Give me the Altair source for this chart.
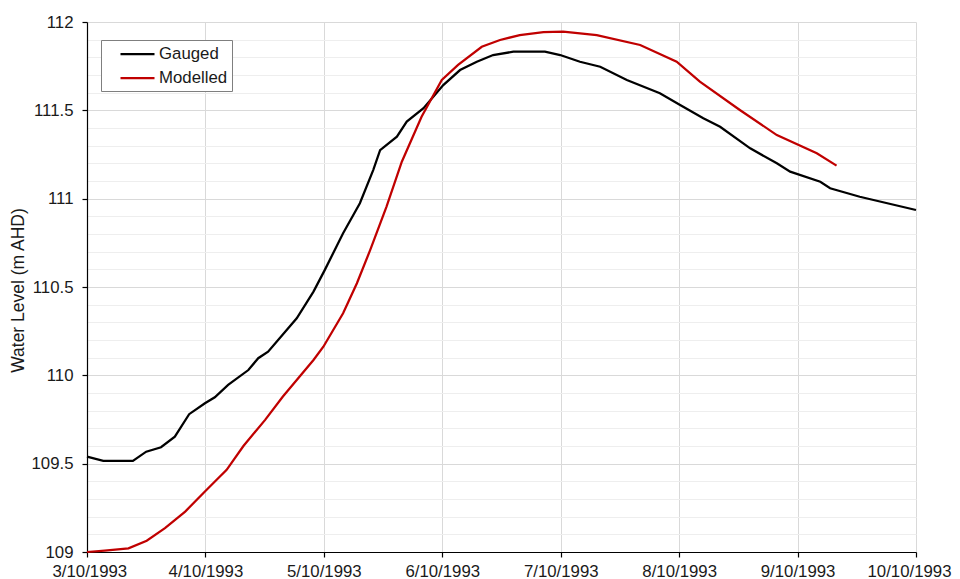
import altair as alt
import pandas as pd

# Hours since 3/10/1993 00:00 and water levels (m AHD)
gauged_hours = [0, 3.3, 9.3, 12.0, 15.0, 17.8, 20.7, 23.9, 25.9, 28.6, 32.7, 34.7, 36.7,
                42.5, 45.9, 48.2, 51.9, 55.3, 58.0, 59.4, 62.8, 64.8, 68.2, 72.2, 75.6,
                79.0, 82.3, 86.4, 92.8, 95.9, 99.9, 104.0, 109.4, 116.1, 120.2, 124.9,
                128.3, 134.4, 139.8, 142.5, 148.6, 150.6, 156.6, 168.0]
gauged_level = [109.54, 109.516, 109.516, 109.568, 109.593, 109.653, 109.78, 109.842,
                109.876, 109.946, 110.03, 110.097, 110.134, 110.323, 110.474, 110.597,
                110.804, 110.974, 111.162, 111.275, 111.351, 111.436, 111.512, 111.643,
                111.728, 111.775, 111.813, 111.832, 111.832, 111.813, 111.775, 111.747,
                111.672, 111.597, 111.53, 111.455, 111.407, 111.285, 111.2, 111.153,
                111.096, 111.059, 111.011, 110.936]

modelled_hours = [0, 3.6, 8.4, 12.1, 15.8, 19.9, 23.9, 28.3, 31.7, 36.1, 39.7, 45.9, 47.9,
                  51.9, 54.7, 57.4, 60.7, 63.8, 67.8, 71.9, 75.2, 80.0, 83.7, 87.7, 92.5,
                  96.5, 103.3, 112.1, 119.5, 124.2, 132.3, 139.8, 147.9, 151.9]
modelled_level = [109.0, 109.008, 109.021, 109.064, 109.135, 109.229, 109.342, 109.465,
                  109.6, 109.748, 109.88, 110.087, 110.162, 110.351, 110.521, 110.71,
                  110.955, 111.209, 111.464, 111.672, 111.757, 111.86, 111.898, 111.926,
                  111.942, 111.945, 111.926, 111.87, 111.775, 111.662, 111.502, 111.36,
                  111.257, 111.187]

series_names = ["Gauged", "Modelled"]
series_colors = ["#000000", "#c00000"]
y_major = [109, 109.5, 110, 110.5, 111, 111.5, 112]
y_minor = [round(109 + 0.1 * i, 1) for i in range(31)]
x_days = [3, 4, 5, 6, 7, 8, 9, 10]

start = pd.Timestamp("1993-10-03")


def to_iso(hours):
    return [(start + pd.Timedelta(hours=h)).strftime("%Y-%m-%dT%H:%M:%SZ") for h in hours]


df = pd.concat([
    pd.DataFrame({"time": to_iso(gauged_hours), "level": gauged_level, "series": "Gauged"}),
    pd.DataFrame({"time": to_iso(modelled_hours), "level": modelled_level, "series": "Modelled"}),
], ignore_index=True)

x_vals = [alt.DateTime(year=1993, month=10, date=d, utc=True) for d in x_days]

x_enc = alt.X(
    "time:T",
    scale=alt.Scale(type="utc", domain=[x_vals[0], x_vals[-1]], nice=False),
    axis=alt.Axis(values=x_vals, format="%-d/%-m/%Y", title=None, grid=True,
                  gridColor="#d9d9d9", gridWidth=1, domainColor="#000000", domainWidth=1.2,
                  tickColor="#000000", tickSize=5, tickWidth=1.2, labelFontSize=16.8,
                  labelColor="#1a1a1a", labelPadding=6, labelFlush=True,
                  labelFlushOffset=35),
)

y_scale = alt.Scale(domain=[109, 112], nice=False, zero=False)

minor = alt.Chart(df).mark_line(opacity=0).encode(
    x=x_enc,
    y=alt.Y("level:Q", scale=y_scale,
            axis=alt.Axis(orient="right", values=y_minor, grid=True, gridColor="#eeeeee",
                          gridWidth=1, labels=False, ticks=False, domain=False, title=None)),
    detail="series:N",
)

lines = alt.Chart(df).mark_line(strokeWidth=2.25).encode(
    x=x_enc,
    y=alt.Y("level:Q", scale=y_scale,
            axis=alt.Axis(orient="left", values=y_major, format="~g", grid=True,
                          gridColor="#d9d9d9", gridWidth=1, domainColor="#000000",
                          domainWidth=1.2, tickColor="#000000", tickSize=5, tickWidth=1.2,
                          labelFontSize=16.8, labelColor="#1a1a1a", labelPadding=9,
                          title="Water Level (m AHD)", titleFontSize=17.5,
                          titleFontWeight="normal", titleColor="#1a1a1a", titleAngle=270,
                          titleX=-68.5, titleY=268, titleAlign="center",
                          titleBaseline="middle")),
    color=alt.Color("series:N",
                    scale=alt.Scale(domain=series_names, range=series_colors),
                    legend=alt.Legend(orient="none", legendX=14, legendY=18, title=None,
                                      symbolType="M-2,0H2", symbolSize=289,
                                      symbolStrokeWidth=2.25, labelFontSize=16.8,
                                      labelColor="#1a1a1a", labelOffset=11.5, padding=4,
                                      symbolOffset=22.5, rowPadding=5,
                                      strokeColor="#7f7f7f", fillColor="#ffffff",
                                      labelExpr="datum.label + '   '")),
)

chart = alt.layer(minor, lines).resolve_axis(y="independent").properties(
    width=829, height=530,
    autosize=alt.AutoSizeParams(type="none"),
    padding={"left": 79, "top": 14, "right": 36, "bottom": 27},
).configure(font="Liberation Sans").configure_view(stroke=None)

chart.save("out.html", embed_options={"renderer": "svg", "actions": False})
